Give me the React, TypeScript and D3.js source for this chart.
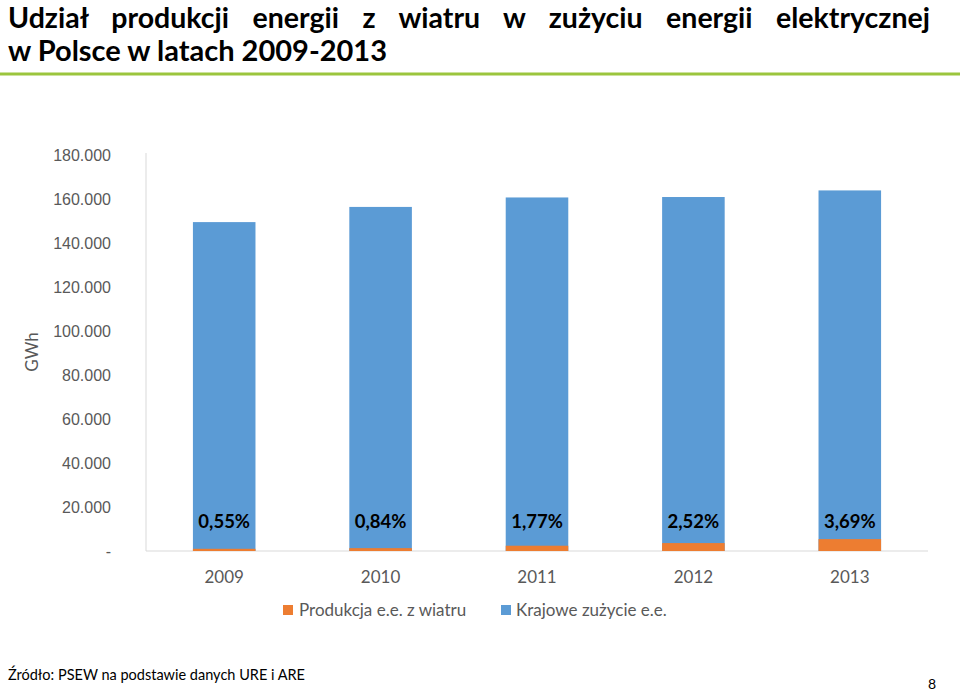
import React, { useLayoutEffect, useRef, useState } from "react";
import * as d3 from "d3";

const years = ["2009", "2010", "2011", "2012", "2013"];
const consumption = [149500, 156400, 160700, 160900, 163900];
const windProduction = [1000, 1300, 2400, 3600, 5400];
const shareLabels = ["0,55%", "0,84%", "1,77%", "2,52%", "3,69%"];
const yTicks = [0, 20000, 40000, 60000, 80000, 100000, 120000, 140000, 160000, 180000];
const seriesNames = ["Produkcja e.e. z wiatru", "Krajowe zużycie e.e."];
const titleLine1 = "Udział produkcji energii z wiatru w zużyciu energii elektrycznej";
const titleLine2 = "w Polsce w latach 2009-2013";

const W = 960, H = 691;
const plot = { left: 146, right: 928, top: 155, bottom: 551 };
const BLUE = "#5b9bd5", ORANGE = "#ed7d31";
const FONT = "Lato, 'Open Sans', sans-serif";

export default function App() {
  const titleRef = useRef<SVGTextElement>(null);
  const [wordSpacing, setWordSpacing] = useState(0);
  useLayoutEffect(() => {
    const el = titleRef.current;
    if (!el) return;
    const natural = el.getComputedTextLength();
    const spaces = titleLine1.split(" ").length - 1;
    setWordSpacing(Math.max(0, (922 - natural) / spaces));
  }, []);

  const x = d3.scaleBand<string>().domain(years).range([plot.left, plot.right]).paddingInner(0.6).paddingOuter(0.3);
  const y = d3.scaleLinear().domain([0, 180000]).range([plot.bottom, plot.top]);
  const tickText = (v: number) => (v === 0 ? "-" : (v / 1000).toFixed(0) + ".000");

  return (
    <svg width={W} height={H} style={{ position: "absolute", left: 0, top: 0, background: "#fff" }} fontFamily={FONT}>
      <text ref={titleRef} x={8} y={28} fontSize={28.5} fontWeight="bold" fill="#000" style={{ wordSpacing: `${wordSpacing}px` }}>
        {titleLine1}
      </text>
      <text x={8} y={61} fontSize={28.5} fontWeight="bold" fill="#000" textLength={379} lengthAdjust="spacingAndGlyphs">
        {titleLine2}
      </text>
      <line x1={0} x2={W} y1={74} y2={74} stroke="#9bc53d" strokeWidth={3} />

      <line x1={plot.left} x2={plot.left} y1={plot.top - 2} y2={plot.bottom} stroke="#d9d9d9" />
      <line x1={plot.left} x2={plot.right} y1={plot.bottom} y2={plot.bottom} stroke="#d9d9d9" />

      {yTicks.map((t) => (
        <text key={t} x={111} y={y(t)} dy="0.35em" textAnchor="end" fontSize={16} fill="#595959" fontFamily="'Liberation Sans', Arial, sans-serif">
          {tickText(t)}
        </text>
      ))}
      <text transform={`translate(38,352) rotate(-90)`} textAnchor="middle" fontSize={17} fill="#595959">GWh</text>

      {years.map((yr, i) => {
        const bx = x(yr)!;
        const bw = x.bandwidth();
        return (
          <g key={yr}>
            <rect x={bx} y={y(consumption[i])} width={bw} height={y(0) - y(consumption[i])} fill={BLUE} />
            <rect x={bx} y={y(windProduction[i])} width={bw} height={y(0) - y(windProduction[i])} fill={ORANGE} />
            <text x={bx + bw / 2} y={522} dy="0.35em" textAnchor="middle" fontSize={18.5} fontWeight="bold" fill="#000">
              {shareLabels[i]}
            </text>
            <text x={bx + bw / 2} y={577} dy="0.35em" textAnchor="middle" fontSize={17} fill="#595959">
              {yr}
            </text>
          </g>
        );
      })}

      <rect x={283} y={605} width={10} height={10} fill={ORANGE} />
      <text x={299} y={610} dy="0.35em" fontSize={17} fill="#595959">{seriesNames[0]}</text>
      <rect x={501} y={605} width={10} height={10} fill={BLUE} />
      <text x={516} y={610} dy="0.35em" fontSize={17} fill="#595959">{seriesNames[1]}</text>

      <text x={8} y={680} fontSize={15} fill="#000" textLength={297} lengthAdjust="spacingAndGlyphs">
        Źródło: PSEW na podstawie danych URE i ARE
      </text>
      <text x={936} y={689} textAnchor="end" fontSize={14} fill="#000">8</text>
    </svg>
  );
}
